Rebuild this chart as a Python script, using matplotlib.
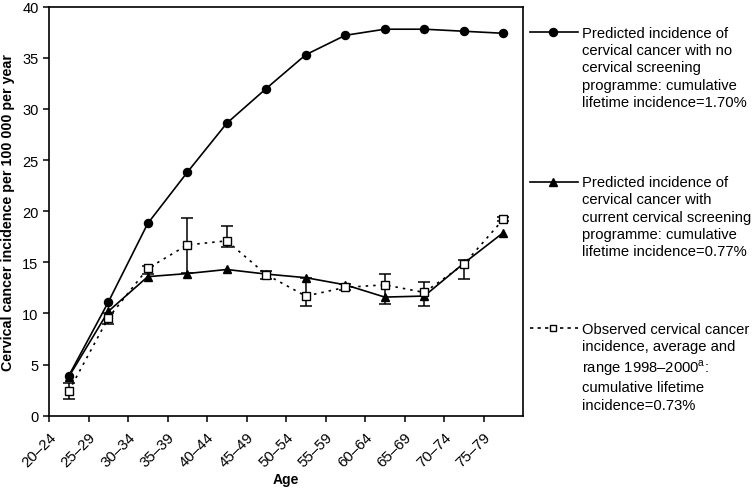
import matplotlib
matplotlib.use('Agg')
import matplotlib.pyplot as plt
from matplotlib.lines import Line2D
import numpy as np

plt.rcParams['font.family'] = ['Liberation Sans', 'DejaVu Sans']
plt.rcParams['mathtext.fontset'] = 'custom'
plt.rcParams['mathtext.rm'] = 'Liberation Sans'

age_groups = ['20–24', '25–29', '30–34', '35–39', '40–44', '45–49',
              '50–54', '55–59', '60–64', '65–69', '70–74', '75–79']

no_screening = [3.9, 11.1, 18.8, 23.8, 28.6, 32.0, 35.3, 37.2, 37.8, 37.8, 37.6, 37.4]
with_screening = [3.8, 10.2, 13.6, 13.9, 14.3, 13.85, 13.5, 12.8, 11.6, 11.7, 14.9, 17.9]
observed = [2.4, 9.55, 14.4, 16.7, 17.1, 13.8, 11.7, 12.55, 12.8, 12.05, 14.8, 19.2]
observed_low = [1.65, 9.0, 13.9, 14.0, 16.45, 13.4, 10.75, 12.3, 10.9, 10.75, 13.4, 19.0]
observed_high = [3.2, 10.0, 14.6, 19.35, 18.6, 14.2, 13.5, 12.9, 13.85, 13.1, 15.25, 19.4]

legend_labels = [
    'Predicted incidence of\ncervical cancer with no\ncervical screening\n'
    'programme: cumulative\nlifetime incidence=1.70%',
    'Predicted incidence of\ncervical cancer with\ncurrent cervical screening\n'
    'programme: cumulative\nlifetime incidence=0.77%',
    'Observed cervical cancer\nincidence, average and\nrange 1998–2000$^{\\mathrm{a}}$:\n'
    'cumulative lifetime\nincidence=0.73%',
]

W, H = 752, 489
fig = plt.figure(figsize=(W / 100, H / 100), dpi=100)
ax = fig.add_axes([49 / W, 1 - 416.7 / H, (523 - 49) / W, (416.7 - 7.7) / H])

x = np.arange(len(age_groups)) + 0.5
obs = np.array(observed)
yerr = [obs - np.array(observed_low), np.array(observed_high) - obs]

ax.errorbar(x, obs, yerr=yerr, fmt='none', ecolor='black', elinewidth=1.1,
            capsize=4, capthick=1.1, zorder=2)
ax.plot(x, obs, color='black', linestyle=(0, (1.5, 3)), lw=1.2, zorder=3)
ax.plot(x, no_screening, color='black', lw=1.2, marker='o', ms=5.8, zorder=4)
ax.plot(x, with_screening, color='black', lw=1.2, marker='^', ms=6.2, zorder=4)
ax.plot(x, obs, linestyle='none', marker='s', ms=5.2, mfc='white', mec='black',
        mew=1.0, zorder=5)

ax.set_xlim(0, 12)
ax.set_ylim(0, 40)
ax.set_yticks(range(0, 41, 5))
ax.set_xticks(np.arange(len(age_groups)))
ax.set_xticklabels(age_groups, rotation=45, ha='right', va='top',
                   rotation_mode='anchor')
ax.tick_params(axis='both', direction='out', length=4, width=1.1,
               color='black')
ax.tick_params(axis='y', labelsize=10.5)
ax.tick_params(axis='x', labelsize=10.8, pad=6)
for sp in ax.spines.values():
    sp.set_linewidth(1.2)

ax.set_xlabel('Age', fontsize=10, fontweight='bold', labelpad=2)
ax.set_ylabel('Cervical cancer incidence per 100 000 per year', fontsize=10.3,
              fontweight='bold', labelpad=5)

# legend drawn beside the axes
entries = [('-', 'o', 'black', 5.8), ('-', '^', 'black', 6.2),
           ((0, (2, 2.5)), 's', 'white', 4.2)]
marker_y = [33.3, 182.7, 329.3]
for (ls, mk, fc, ms), my, lab in zip(entries, marker_y, legend_labels):
    fy = 1 - my / H
    fig.add_artist(Line2D([530 / W, 578 / W], [fy, fy], color='black', lw=1.2,
                          linestyle=ls, transform=fig.transFigure))
    fig.add_artist(Line2D([553 / W], [fy], marker=mk, ms=ms,
                          mfc=fc, mec='black', color='black',
                          transform=fig.transFigure))
    fig.text(582 / W, fy + 6.5 / H, lab, fontsize=10.6, va='top', ha='left',
             linespacing=1.3)

fig.savefig('out.png', dpi=100, facecolor='white')
